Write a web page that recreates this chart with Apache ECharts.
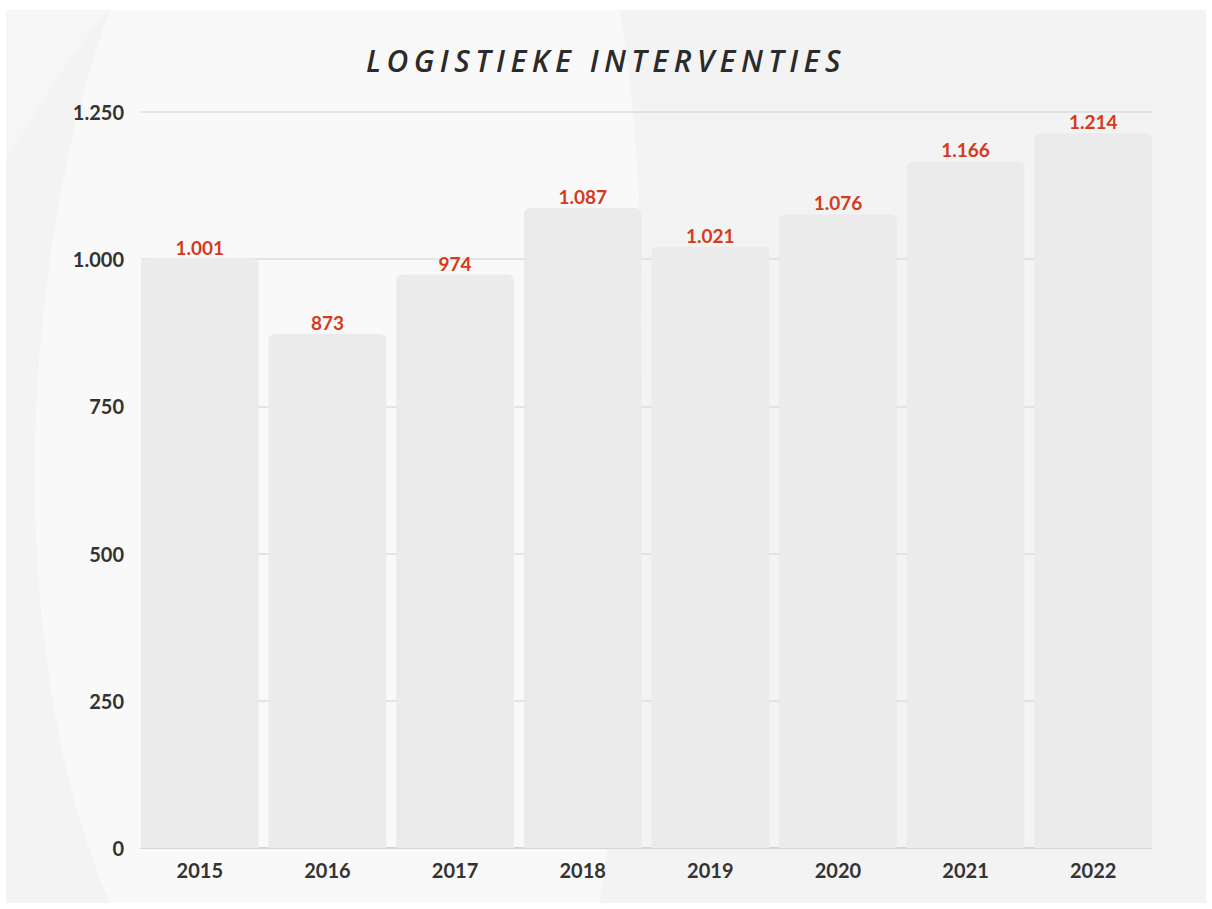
<html>
<head>
    <meta http-equiv="Content-Type" content="text/html; charset=utf-8" />
</head>
<script type="text/javascript" src="https://cdn.jsdelivr.net/npm/echarts@6/dist/echarts.min.js"></script>
<body style="margin:0;background:#ffffff">
<div id="main" style="width: 1212px;height:909px;"></div>
</body>
<script type="text/javascript">
    // data
    var jaren = ['2015', '2016', '2017', '2018', '2019', '2020', '2021', '2022'];
    var interventies = [1001, 873, 974, 1087, 1021, 1076, 1166, 1214];
    var yTicks = [0, 250, 500, 750, 1000, 1250];
    var titel = 'LOGISTIEKE INTERVENTIES';

    // 1.250 notatie (punt als duizendtal)
    function punt(v) {
        return String(v).replace(/\B(?=(\d{3})+(?!\d))/g, '.');
    }

    // punten langs een kubische bezier, voor de achtergrondvegen
    function bez(p0, p1, p2, p3, n) {
        var pts = [];
        for (var i = 0; i <= n; i++) {
            var t = i / n, u = 1 - t;
            pts.push([
                u*u*u*p0[0] + 3*u*u*t*p1[0] + 3*u*t*t*p2[0] + t*t*t*p3[0],
                u*u*u*p0[1] + 3*u*u*t*p1[1] + 3*u*t*t*p2[1] + t*t*t*p3[1]
            ]);
        }
        return pts;
    }

    var veeg1 = bez([110, 10], [20, 250], [0, 650], [110, 903], 40)
        .concat(bez([600, 903], [640, 600], [660, 250], [620, 10], 40));
    var veeg2 = bez([6, 160], [50, 90], [80, 40], [110, 10], 20)
        .concat([[6, 10]]);

    var myChart = echarts.init(document.getElementById('main'), null, { renderer: 'svg' });

    var asLabel = {
        fontFamily: 'Lato',
        fontSize: 20,
        fontWeight: 'bold',
        color: '#333333'
    };

    var option = {
        animation: false,
        backgroundColor: '#ffffff',
        graphic: [
            { type: 'rect', z: -10, shape: { x: 6, y: 10, width: 1200, height: 893 }, style: { fill: '#f3f3f3' } },
            { type: 'polygon', z: -9, shape: { points: veeg1 }, style: { fill: '#f9f9f9' } },
            { type: 'polygon', z: -9, shape: { points: veeg2 }, style: { fill: '#f6f6f6' } }
        ],
        title: {
            text: titel,
            left: 361,
            top: 40,
            textStyle: {
                fontFamily: 'Open Sans',
                fontSize: 30,
                fontWeight: 600,
                fontStyle: 'italic',
                color: '#2b2b2b'
            }
        },
        // grid 0: rasterlijnen en y-as, grid 1: staven (lopen tot de randen door)
        grid: [
            { left: 141, right: 60, top: 112, bottom: 61 },
            { left: 136, right: 55, top: 112, bottom: 61 }
        ],
        xAxis: [{
            type: 'category',
            gridIndex: 0,
            data: jaren,
            axisTick: { show: false },
            axisLabel: { show: false },
            axisLine: { lineStyle: { color: '#cfcfcf', width: 1.5 } }
        }, {
            type: 'category',
            gridIndex: 1,
            data: jaren,
            axisTick: { show: false },
            axisLine: { show: false },
            axisLabel: Object.assign({ margin: 12 }, asLabel)
        }],
        yAxis: [{
            type: 'value',
            gridIndex: 0,
            min: yTicks[0],
            max: yTicks[yTicks.length - 1],
            interval: 250,
            axisLine: { show: false },
            axisTick: { show: false },
            splitLine: { lineStyle: { color: '#dcdcdc', width: 1.5 } },
            axisLabel: Object.assign({
                margin: 17,
                formatter: function (v) { return punt(v); }
            }, asLabel)
        }, {
            type: 'value',
            gridIndex: 1,
            min: yTicks[0],
            max: yTicks[yTicks.length - 1],
            interval: 250,
            show: false
        }],
        series: [{
            type: 'bar',
            xAxisIndex: 1,
            yAxisIndex: 1,
            data: interventies,
            barCategoryGap: '7.8%',
            itemStyle: {
                color: '#ebebeb',
                borderRadius: [6, 6, 0, 0]
            },
            label: {
                show: true,
                position: 'top',
                distance: 2,
                fontFamily: 'Lato',
                fontSize: 19,
                fontWeight: 'bold',
                color: '#d6391c',
                formatter: function (p) { return punt(p.value); }
            }
        }]
    };

    myChart.setOption(option);

    // titel met letterspatiëring zoals in het origineel
    var teksten = document.querySelectorAll('#main svg text');
    for (var i = 0; i < teksten.length; i++) {
        if (teksten[i].textContent === titel) {
            teksten[i].setAttribute('letter-spacing', '5.5');
        }
    }
</script>
</html>
